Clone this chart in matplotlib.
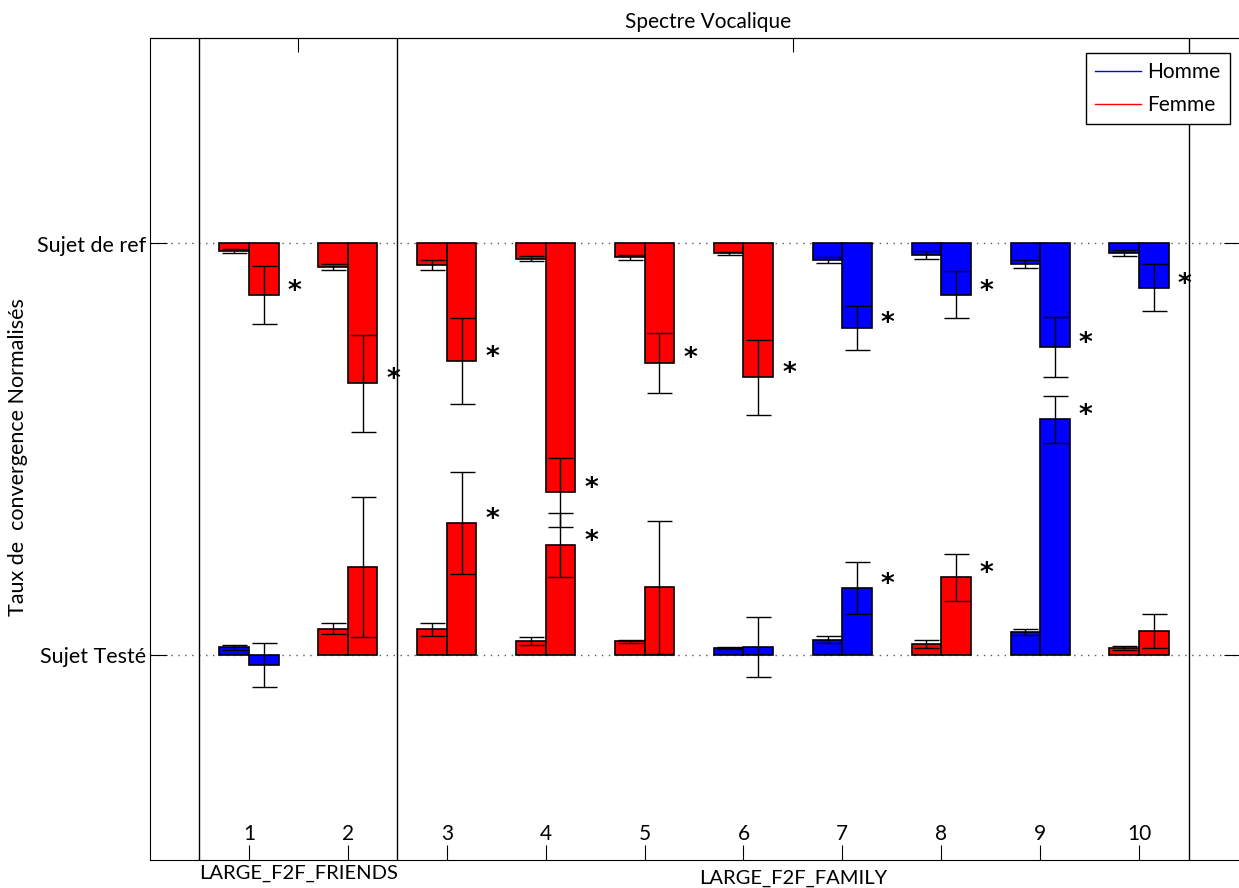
import matplotlib
matplotlib.use('Agg')
import matplotlib.pyplot as plt
import matplotlib.transforms as mtransforms
from matplotlib.lines import Line2D
import numpy as np

plt.rcParams['font.family'] = ['Lato', 'DejaVu Sans']

# ---- data ----
groups = [1, 2, 3, 4, 5, 6, 7, 8, 9, 10]
# top pair: hangs down from "Sujet de ref" (=1)
top_left = [0.982, 0.943, 0.948, 0.963, 0.966, 0.976, 0.960, 0.972, 0.950, 0.977]
top_left_err = [0.004, 0.008, 0.012, 0.006, 0.007, 0.004, 0.007, 0.009, 0.010, 0.008]
top_right = [0.875, 0.660, 0.714, 0.395, 0.710, 0.674, 0.795, 0.875, 0.748, 0.892]
top_right_err = [0.070, 0.118, 0.105, 0.084, 0.073, 0.091, 0.053, 0.057, 0.073, 0.057]
# bottom pair: rises from "Sujet Testé" (=0)
bot_left = [0.018, 0.063, 0.061, 0.033, 0.032, 0.016, 0.036, 0.026, 0.055, 0.016]
bot_left_err = [0.006, 0.013, 0.015, 0.010, 0.004, 0.002, 0.008, 0.009, 0.008, 0.005]
bot_right = [-0.025, 0.212, 0.320, 0.266, 0.164, 0.018, 0.161, 0.188, 0.572, 0.058]
bot_right_err = [0.053, 0.170, 0.123, 0.078, 0.162, 0.073, 0.063, 0.057, 0.057, 0.041]
# gender of each pair (H = Homme, F = Femme)
top_sex = ['F', 'F', 'F', 'F', 'F', 'F', 'H', 'H', 'H', 'H']
bot_sex = ['H', 'F', 'F', 'F', 'F', 'H', 'H', 'F', 'H', 'F']
# significance stars
top_star = [1, 1, 1, 1, 1, 1, 1, 1, 1, 1]
bot_star = [0, 0, 1, 1, 0, 0, 1, 1, 1, 0]

sex_col = {'H': '#0000ff', 'F': '#ff0000'}

fig = plt.figure(figsize=(12.39, 8.88), dpi=100)
ax = fig.add_axes([150 / 1239, 28 / 888, 1091 / 1239, 822 / 888])

x = np.array(groups, dtype=float)
w = 0.3

# dotted reference lines
ax.axhline(1, ls=(0, (1, 4)), color='0.35', lw=1, zorder=0)
ax.axhline(0, ls=(0, (1, 4)), color='0.35', lw=1, zorder=0)

tl = np.array(top_left); tr = np.array(top_right)
bl = np.array(bot_left); br = np.array(bot_right)
tcol = [sex_col[s] for s in top_sex]
bcol = [sex_col[s] for s in bot_sex]

ax.bar(x - w / 2, tl - 1, bottom=1, width=w, color=tcol, edgecolor='k', lw=1.2, zorder=2)
ax.bar(x + w / 2, tr - 1, bottom=1, width=w, color=tcol, edgecolor='k', lw=1.2, zorder=2)
ax.bar(x - w / 2, bl, width=w, color=bcol, edgecolor='k', lw=1.2, zorder=2)
ax.bar(x + w / 2, br, width=w, color=bcol, edgecolor='k', lw=1.2, zorder=2)

ekw = dict(fmt='none', ecolor='k', elinewidth=1, capsize=9, capthick=1, zorder=3)
ax.errorbar(x - w / 2, tl, yerr=top_left_err, **ekw)
ax.errorbar(x + w / 2, tr, yerr=top_right_err, **ekw)
ax.errorbar(x - w / 2, bl, yerr=bot_left_err, **ekw)
ax.errorbar(x + w / 2, br, yerr=bot_right_err, **ekw)

# stars
for i in range(len(groups)):
    if top_star[i]:
        ax.text(x[i] + 0.46, tr[i] + 0.008, '*', fontsize=19, ha='center', va='center',
                family='DejaVu Sans', weight='bold', zorder=4)
    if bot_star[i]:
        ax.text(x[i] + 0.46, br[i] + 0.008, '*', fontsize=19, ha='center', va='center',
                family='DejaVu Sans', weight='bold', zorder=4)

# group separators
for xv in [0.5, 2.5, 10.5]:
    ax.axvline(xv, color='k', lw=1, zorder=1)

ax.set_xlim(0, 11.03)
ax.set_ylim(-0.5, 1.5)

ax.set_xticks(groups)
ax.set_xticklabels([str(g) for g in groups])
ax.tick_params(axis='x', direction='in', length=11, pad=-26, labelsize=15)
ax.set_yticks([0, 1])
ax.set_yticklabels(['Sujet Testé', 'Sujet de ref'])
ax.tick_params(axis='y', direction='in', length=12, pad=3, labelsize=15.5, right=True)

sec = ax.secondary_xaxis('top')
sec.set_xticks([1.5, 6.5])
sec.tick_params(direction='in', length=10, labeltop=False)

trans = mtransforms.blended_transform_factory(ax.transData, ax.transAxes)
ax.text(1.5, -0.006, 'LARGE_F2F_FRIENDS', transform=trans, ha='center', va='top', fontsize=14.5)
ax.text(6.5, -0.012, 'LARGE_F2F_FAMILY', transform=trans, ha='center', va='top', fontsize=14.5)

ax.set_ylabel('Taux de  convergence Normalisés', fontsize=15.5, labelpad=6, y=0.49)
ax.set_title('Spectre Vocalique', fontsize=15, pad=7, x=(708 - 150) / 1091)

handles = [Line2D([], [], color='#0000ff', lw=1), Line2D([], [], color='#ff0000', lw=1)]
ax.legend(handles, ['Homme', 'Femme'], loc='upper right', bbox_to_anchor=(1230 / 1239, 1 - 53 / 888),
          bbox_transform=fig.transFigure, borderaxespad=0, fancybox=False, edgecolor='k',
          framealpha=1, fontsize=15, handlelength=2.2, labelspacing=0.6, handletextpad=0.3,
          borderpad=0.45)

fig.savefig('out.png', dpi=100)
